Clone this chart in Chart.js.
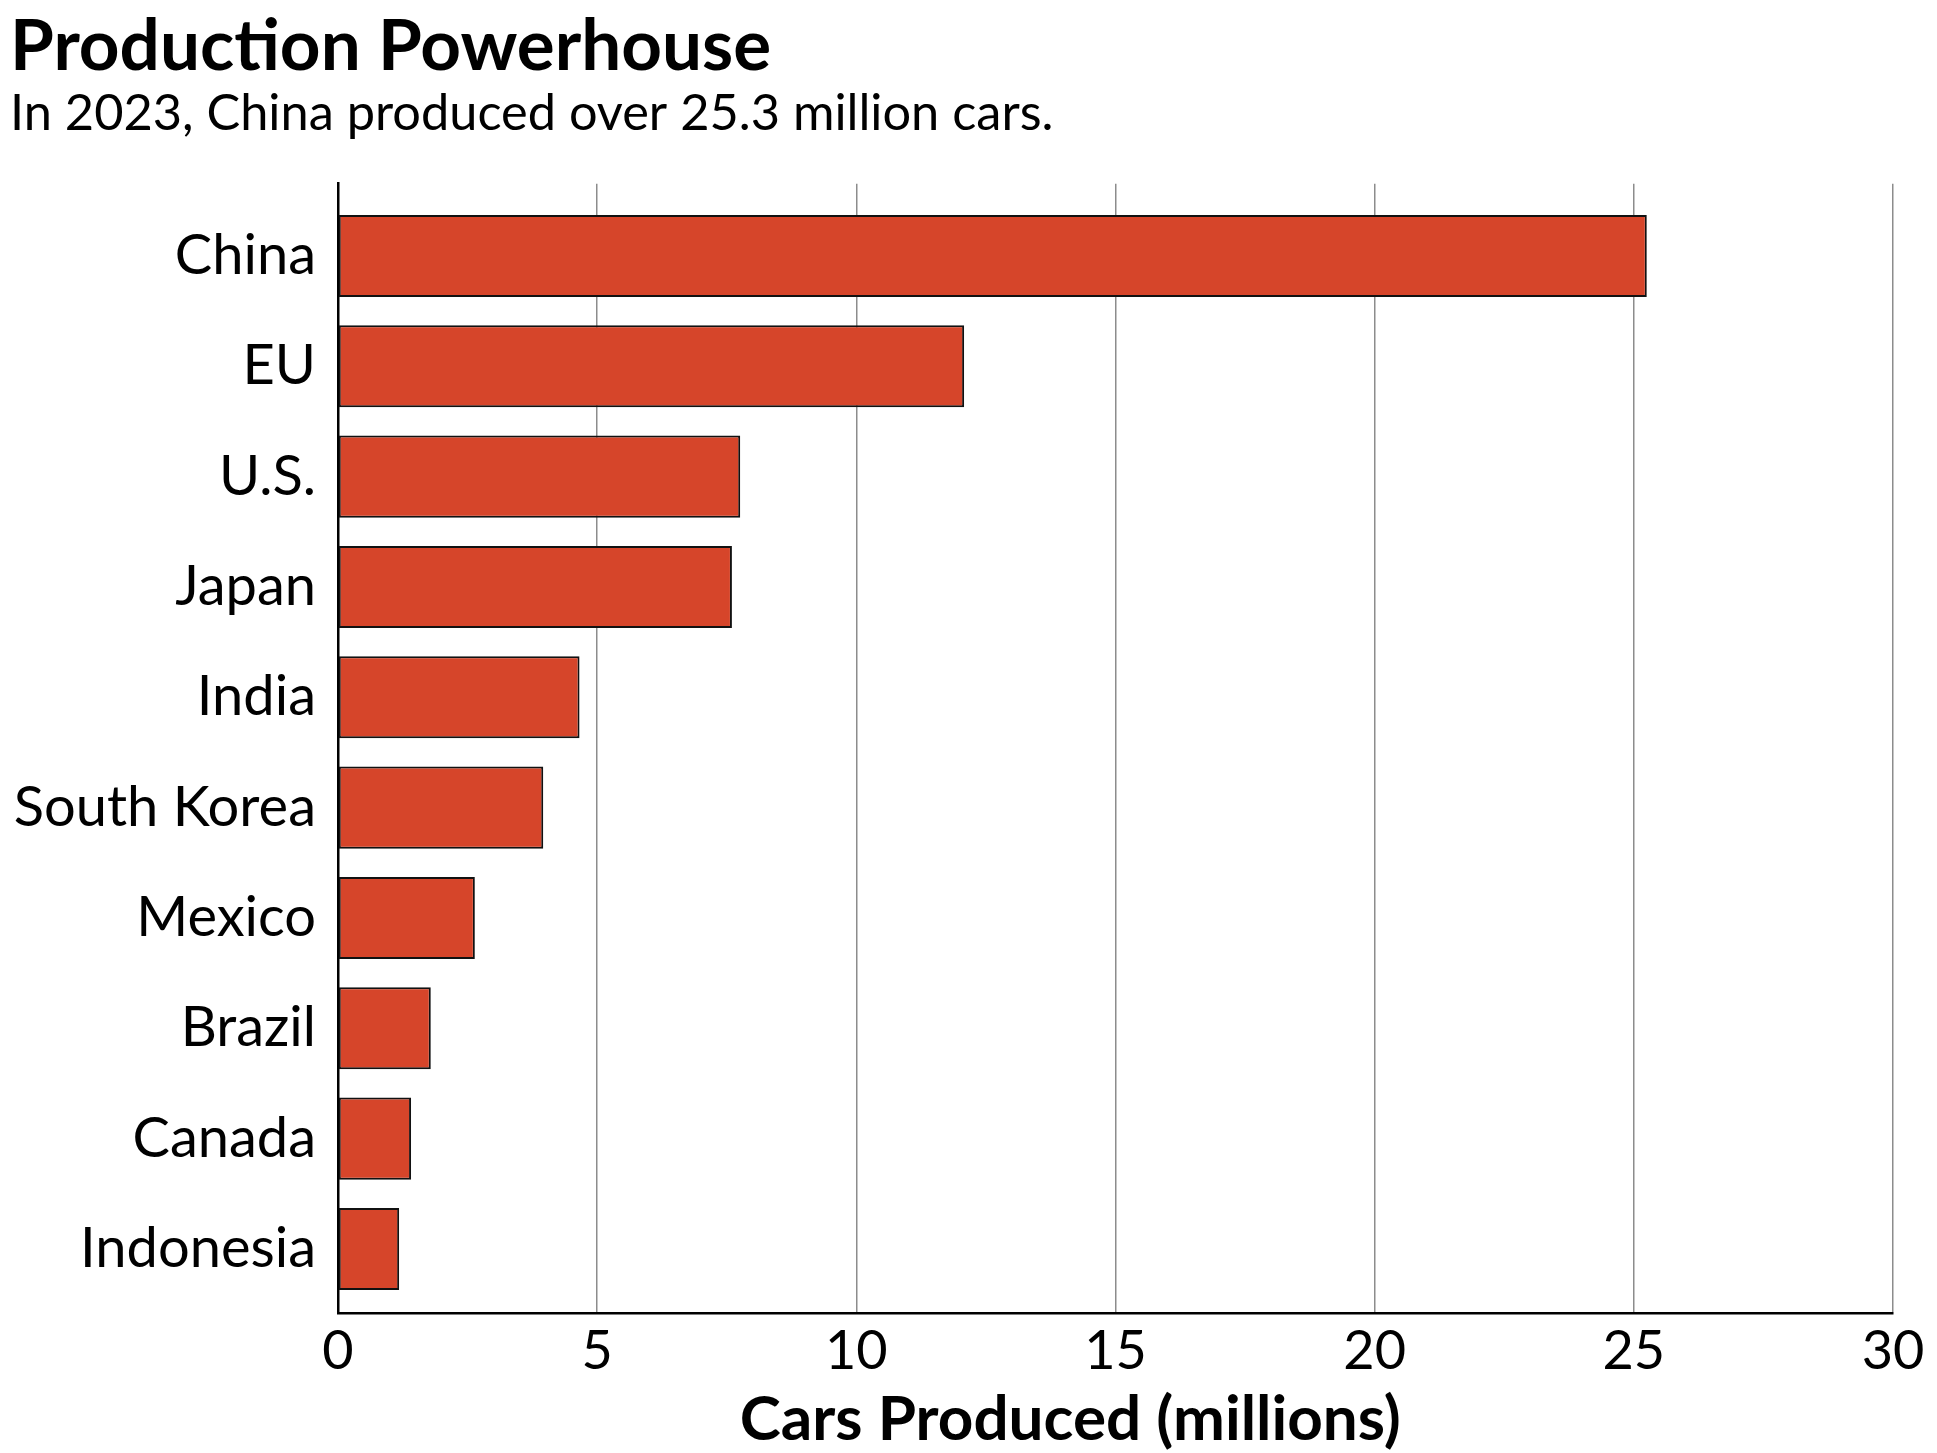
<!DOCTYPE html>
<html>
<head>
<meta charset="utf-8">
<script src="https://cdn.jsdelivr.net/npm/chart.js@4"></script>
<style>
    html, body { margin: 0; padding: 0; background: #ffffff; }
    #chart { display: block; }
</style>
</head>
<body>
<canvas id="chart" width="1937" height="1453"></canvas>
<script>
// Car production 2023, millions
const countries = ['China', 'EU', 'U.S.', 'Japan', 'India', 'South Korea', 'Mexico', 'Brazil', 'Canada', 'Indonesia'];
const production = [25.25, 12.08, 7.76, 7.6, 4.66, 3.96, 2.64, 1.79, 1.41, 1.18];
const xTicks = [0, 5, 10, 15, 20, 25, 30];

const FONT = 'Lato';

const ctx = document.getElementById('chart').getContext('2d');

// linear index axis so the category band can have the uneven top/bottom margin of the original
const points = countries.map((c, i) => ({ x: production[i], y: i }));

new Chart(ctx, {
    type: 'bar',
    data: {
        datasets: [{
            label: 'Cars Produced',
            data: points,
            backgroundColor: '#d6452a',
            borderColor: '#111111',
            borderWidth: 2,
            borderSkipped: false,
            categoryPercentage: 0.8,
            barPercentage: 0.93
        }]
    },
    options: {
        indexAxis: 'y',
        responsive: false,
        devicePixelRatio: 1,
        animation: false,
        layout: {
            padding: { left: 10, right: 44, top: 8, bottom: 0 }
        },
        plugins: {
            legend: { display: false },
            tooltip: { enabled: false },
            title: {
                display: true,
                text: 'Production Powerhouse',
                align: 'start',
                color: '#000000',
                font: { family: FONT, size: 71, weight: 'bold', lineHeight: 1.1 },
                padding: { top: 0, bottom: 0 }
            },
            subtitle: {
                display: true,
                text: 'In 2023, China produced over 25.3 million cars.',
                align: 'start',
                color: '#000000',
                font: { family: FONT, size: 50.5, weight: 'normal', lineHeight: 1.1 },
                padding: { top: 0, bottom: 42 }
            }
        },
        scales: {
            x: {
                type: 'linear',
                position: 'bottom',
                min: 0,
                max: 30,
                afterBuildTicks: function(scale) {
                    scale.ticks = xTicks.map(v => ({ value: v }));
                },
                afterFit: function(scale) {
                    scale.height = 140;
                },
                grid: {
                    display: true,
                    color: '#8c8c8c',
                    lineWidth: 1.5,
                    drawTicks: false
                },
                border: {
                    display: true,
                    color: '#000000',
                    width: 2.5
                },
                ticks: {
                    color: '#000000',
                    padding: 6,
                    font: { family: FONT, size: 54 }
                },
                title: {
                    display: true,
                    // trailing spaces nudge the centred title left like the original
                    text: 'Cars Produced (millions)      ',
                    color: '#000000',
                    font: { family: FONT, size: 62, weight: 'bold', lineHeight: 1.0 },
                    padding: { top: 0, bottom: 2 }
                }
            },
            y: {
                type: 'linear',
                reverse: true,
                bounds: 'data',
                offset: false,
                min: -0.655,
                max: 9.58,
                afterBuildTicks: function(scale) {
                    scale.ticks = countries.map((c, i) => ({ value: i }));
                },
                afterFit: function(scale) {
                    scale.width = 328;
                },
                grid: { display: false, drawTicks: false, offset: false },
                border: {
                    display: true,
                    color: '#000000',
                    width: 2.5
                },
                ticks: {
                    color: '#000000',
                    padding: 22,
                    autoSkip: false,
                    font: { family: FONT, size: 56 },
                    callback: function(value) {
                        return countries[value] !== undefined ? countries[value] : '';
                    }
                }
            }
        }
    }
});
</script>
</body>
</html>
